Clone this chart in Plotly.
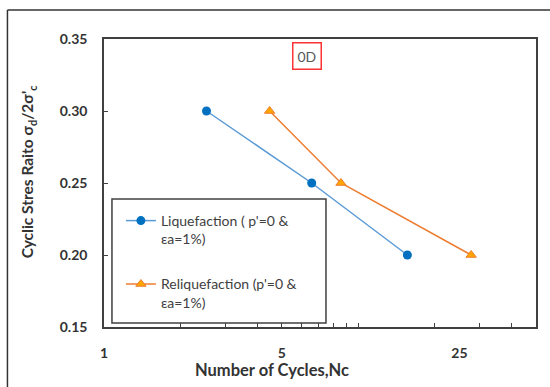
import plotly.graph_objects as go

liq_x = [2.53, 6.56, 15.6]
liq_y = [0.30, 0.25, 0.20]
reliq_x = [4.48, 8.55, 27.8]
reliq_y = [0.30, 0.25, 0.20]
x_tickvals = [1, 5, 25]
x_ticktext = ["1", "5", "25"]
x_minor = [2, 3, 4, 5, 6, 7, 8, 9, 10, 20, 30, 40]
y_tickvals = [0.15, 0.20, 0.25, 0.30, 0.35]

FONT = "Lato"

# pixel helpers for plot-area (l=104, t=39, w=434, h=288)
def px(x):
    return (x - 104) / 434.0

def py(y):
    return (327 - y) / 288.0

fig = go.Figure()
fig.add_trace(go.Scatter(
    x=liq_x, y=liq_y, mode="lines+markers",
    name="Liquefaction ( p'=0 &<br>εa=1%)",
    line=dict(color="#5B9BD5", width=1.5),
    marker=dict(symbol="circle", size=9, color="#0070C0"),
    legendgroup="a",
))
fig.add_trace(go.Scatter(
    x=reliq_x, y=reliq_y, mode="lines+markers",
    name="Reliquefaction (p'=0 &<br>εa=1%)",
    line=dict(color="#ED7D31", width=1.5),
    marker=dict(symbol="triangle-up", size=9, color="#FFA500",
                line=dict(color="#ED7D31", width=1)),
    legendgroup="b",
))

fig.update_layout(
    width=550, height=387,
    margin=dict(l=104, r=12, t=39, b=60),
    paper_bgcolor="white", plot_bgcolor="white",
    font=dict(family=FONT, size=14, color="#333333"),
    showlegend=True,
    legend=dict(
        x=px(121), y=py(205), xanchor="left", yanchor="top",
        borderwidth=0, bgcolor="rgba(0,0,0,0)",
        font=dict(family=FONT, size=14, color="#404040"),
        traceorder="grouped", tracegroupgap=24,
        valign="top", itemwidth=30,
    ),
    xaxis=dict(
        type="log", range=[0, 1.699],
        tickvals=x_tickvals, ticktext=x_ticktext,
        ticks="", ticklabelstandoff=12,
        tickfont=dict(family=FONT, size=14, color="#333333", weight="bold"),
        showgrid=False, zeroline=False,
        showline=True, linecolor="#404040", linewidth=1.5, mirror=True,
        minor=dict(tickvals=x_minor, ticks="inside", ticklen=4,
                   tickcolor="#404040", showgrid=False),
    ),
    yaxis=dict(
        range=[0.15, 0.35], tickvals=y_tickvals, tickformat=".2f",
        ticks="inside", ticklen=4, tickcolor="#404040",
        ticklabelstandoff=12,
        tickfont=dict(family=FONT, size=14, color="#333333", weight="bold"),
        showgrid=False, zeroline=False,
        showline=True, linecolor="#404040", linewidth=1.5, mirror=True,
    ),
    annotations=[
        dict(text="Number of Cycles,Nc", xref="paper", yref="paper",
             x=px(273), y=py(370), xanchor="center", yanchor="middle",
             showarrow=False,
             font=dict(family=FONT, size=16.5, color="#333333", weight="bold")),
        dict(text="Cyclic Stres Raito σ<sub>d</sub>/2σ'<sub>c</sub>",
             xref="paper", yref="paper", x=px(28), y=py(171),
             xanchor="center", yanchor="middle", textangle=-90,
             showarrow=False,
             font=dict(family=FONT, size=15.5, color="#333333", weight="bold")),
        dict(text="0D", xref="paper", yref="paper", x=px(308), y=py(56),
             xanchor="center", yanchor="middle", showarrow=False,
             bordercolor="#FF3333", borderwidth=1.5, borderpad=4,
             bgcolor="white",
             font=dict(family=FONT, size=14, color="#595959")),
    ],
    shapes=[
        dict(type="line", xref="paper", yref="paper",
             x0=px(7), x1=px(560), y0=py(10), y1=py(10),
             line=dict(color="#333333", width=1.5)),
        dict(type="line", xref="paper", yref="paper",
             x0=px(7), x1=px(7), y0=py(10), y1=py(400),
             line=dict(color="#333333", width=1.5)),
        dict(type="rect", xref="paper", yref="paper",
             x0=px(112), x1=px(327), y0=py(199), y1=py(323),
             line=dict(color="#404040", width=1.5),
             fillcolor="white", layer="above"),
    ],
)

fig.write_html("out.html", config={"displayModeBar": False},
               post_script="document.body.style.margin='0px';")
